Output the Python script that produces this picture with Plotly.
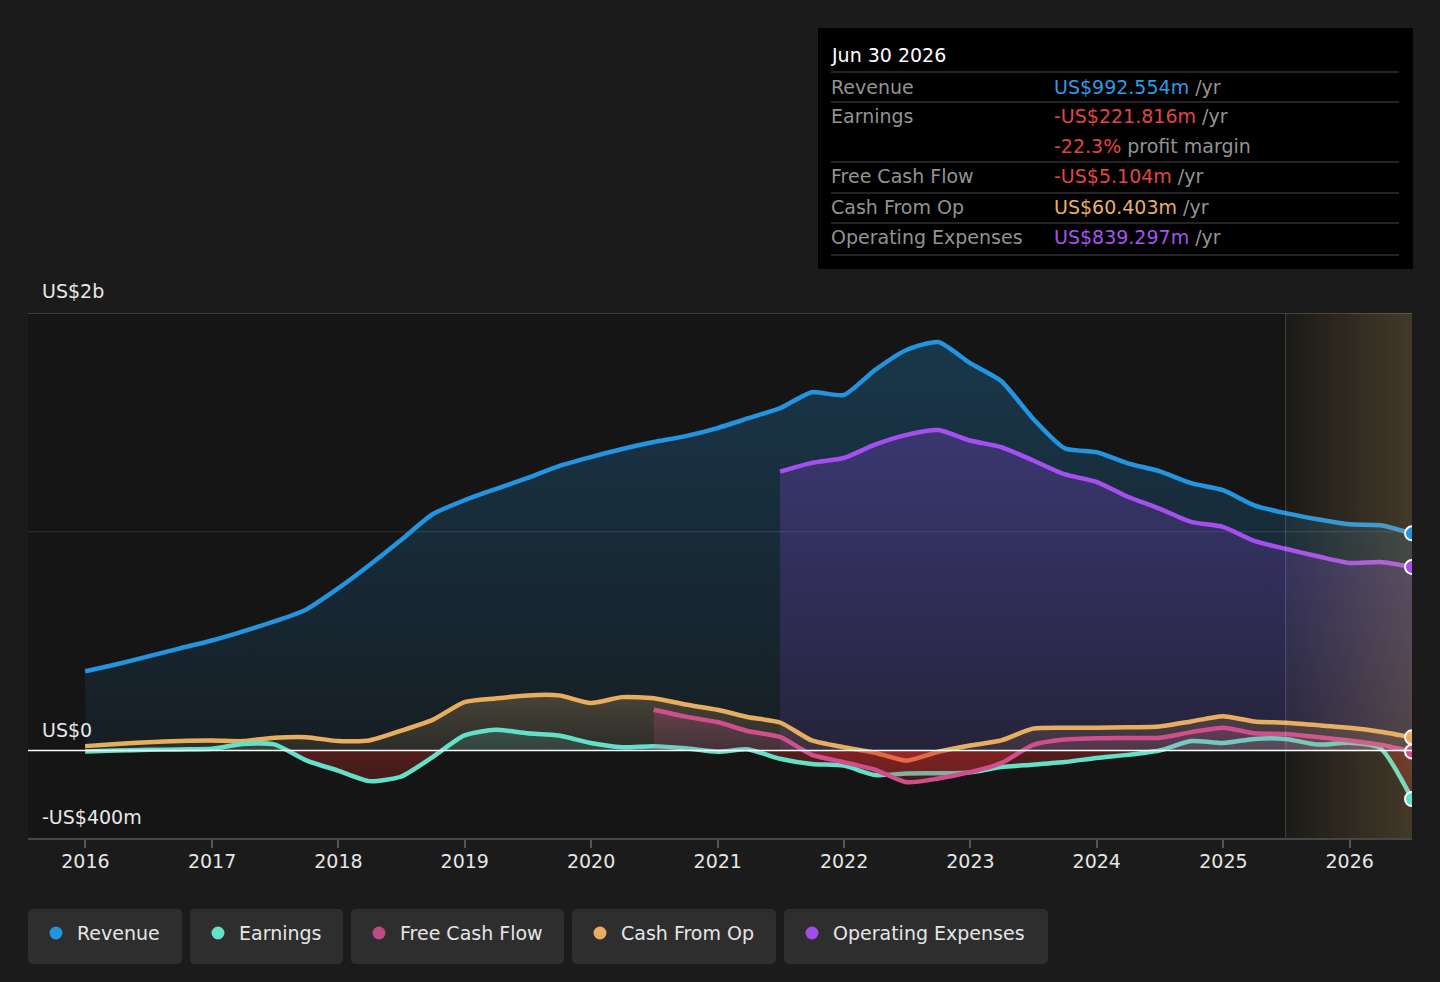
import plotly.graph_objects as go

# ---------------- data (US$ billions, trailing twelve months) ----------------
dates = [
    "2015-12-31", "2016-03-31", "2016-06-30", "2016-09-30",
    "2016-12-31", "2017-03-31", "2017-06-30", "2017-09-30",
    "2017-12-31", "2018-03-31", "2018-06-30", "2018-09-30",
    "2018-12-31", "2019-03-31", "2019-06-30", "2019-09-30",
    "2019-12-31", "2020-03-31", "2020-06-30", "2020-09-30",
    "2020-12-31", "2021-03-31", "2021-06-30", "2021-09-30",
    "2021-12-31", "2022-03-31", "2022-06-30", "2022-09-30",
    "2022-12-31", "2023-03-31", "2023-06-30", "2023-09-30",
    "2023-12-31", "2024-03-31", "2024-06-30", "2024-09-30",
    "2024-12-31", "2025-03-31", "2025-06-30", "2025-09-30",
    "2025-12-31", "2026-03-31", "2026-06-30",
]

revenue = [
    0.362, 0.394, 0.430, 0.467,
    0.503, 0.545, 0.590, 0.645,
    0.741, 0.847, 0.961, 1.080,
    1.144, 1.195, 1.245, 1.300,
    1.341, 1.378, 1.410, 1.437,
    1.474, 1.519, 1.565, 1.638,
    1.625, 1.739, 1.831, 1.867,
    1.771, 1.689, 1.519, 1.382,
    1.364, 1.313, 1.277, 1.222,
    1.190, 1.121, 1.085, 1.057,
    1.034, 1.030, 0.9926,
]

earnings = [
    -0.004, 0.000, 0.003, 0.005,
    0.008, 0.030, 0.028, -0.045,
    -0.092, -0.140, -0.120, -0.030,
    0.069, 0.095, 0.079, 0.069,
    0.034, 0.015, 0.020, 0.010,
    -0.006, 0.005, -0.038, -0.062,
    -0.069, -0.112, -0.105, -0.104,
    -0.100, -0.076, -0.065, -0.053,
    -0.034, -0.020, 0.000, 0.043,
    0.034, 0.053, 0.053, 0.027,
    0.035, 0.010, -0.2218,
]

# free cash flow starts Jun 2020
fcf = [
    0.186, 0.155,
    0.130, 0.088, 0.062, -0.020,
    -0.053, -0.088, -0.145, -0.128,
    -0.099, -0.058, 0.025, 0.050,
    0.056, 0.057, 0.058, 0.084,
    0.104, 0.079, 0.076, 0.062,
    0.046, 0.026, -0.0051,
]

cash_from_op = [
    0.020, 0.030, 0.038, 0.044,
    0.046, 0.043, 0.058, 0.061,
    0.043, 0.046, 0.090, 0.140,
    0.221, 0.238, 0.252, 0.252,
    0.217, 0.244, 0.239, 0.210,
    0.186, 0.152, 0.128, 0.046,
    0.015, -0.010, -0.046, -0.006,
    0.023, 0.046, 0.100, 0.104,
    0.104, 0.106, 0.110, 0.133,
    0.157, 0.133, 0.127, 0.116,
    0.104, 0.086, 0.0604,
]

# operating expenses start Jun 2021
opex = [
    1.275, 1.315,
    1.337, 1.398, 1.443, 1.465,
    1.417, 1.387, 1.327, 1.263,
    1.228, 1.160, 1.106, 1.045,
    1.022, 0.958, 0.922, 0.888,
    0.857, 0.862, 0.8393,
]

forecast_start = "2025-06-30"
x_range = ["2015-07-19", "2026-06-30"]
y_range = [-0.4, 2.0]
y_labels = [(2.0, "US$2b"), (0.0, "US$0"), (-0.4, "-US$400m")]

tooltip_date = "Jun 30 2026"
tooltip_rows = [
    ("Revenue", "US$992.554m", " /yr", "#2d9be6"),
    ("Earnings", "-US$221.816m", " /yr", "#e04646"),
    ("", "-22.3%", " profit margin", "#e04646"),
    ("Free Cash Flow", "-US$5.104m", " /yr", "#e04646"),
    ("Cash From Op", "US$60.403m", " /yr", "#e9b061"),
    ("Operating Expenses", "US$839.297m", " /yr", "#a852f0"),
]

legend_names = ["Revenue", "Earnings", "Free Cash Flow", "Cash From Op", "Operating Expenses"]

# ---------------- styles ----------------
FONT = "DejaVu Sans"
C_REV = "#2394df"
C_EARN = "#62e0c8"
C_FCF = "#cf4f8d"
C_CFO = "#e8ae5f"
C_OPEX = "#a64ff0"
legend_colors = ["#2494e0", "#63e2c9", "#be4a86", "#e8ad5f", "#a24ceb"]
LW = 4.5

W, H = 1440, 982
L, R, T, B = 28, 1412, 313, 838


def px(x):
    return (x - L) / (R - L)


def py(y):
    return (B - y) / (B - T)


def signed_scale(pos_rgb, a_lo, a_hi, neg_a_far=0.10, neg_a_near=0.32):
    """vertical gradient: red below zero, series colour above (start=-0.4, stop=0.4)"""
    return [
        [0.0, f"rgba(215,45,45,{neg_a_far})"],
        [0.5, f"rgba(215,45,45,{neg_a_near})"],
        [0.5, f"rgba({pos_rgb},{a_lo})"],
        [1.0, f"rgba({pos_rgb},{a_hi})"],
    ]


fig = go.Figure()

# Revenue
fig.add_trace(go.Scatter(
    x=dates, y=revenue, mode="lines", line=dict(color=C_REV, width=LW, shape="spline", smoothing=0.6),
    fill="tozeroy",
    fillgradient=dict(type="vertical", start=0, stop=1.9,
                      colorscale=[[0, "rgba(35,148,223,0.07)"], [1, "rgba(35,148,223,0.27)"]]),
    hoverinfo="skip", showlegend=False))

# Operating expenses
fig.add_trace(go.Scatter(
    x=dates[-len(opex):], y=opex, mode="lines", line=dict(color=C_OPEX, width=LW, shape="spline", smoothing=0.6),
    fill="tozeroy",
    fillgradient=dict(type="vertical", start=0, stop=1.5,
                      colorscale=[[0, "rgba(150,70,235,0.12)"], [1, "rgba(150,70,235,0.27)"]]),
    hoverinfo="skip", showlegend=False))

# Cash from operations
fig.add_trace(go.Scatter(
    x=dates, y=cash_from_op, mode="lines", line=dict(color=C_CFO, width=LW, shape="spline", smoothing=0.6),
    fill="tozeroy",
    fillgradient=dict(type="vertical", start=-0.4, stop=0.4,
                      colorscale=signed_scale("232,174,95", 0.10, 0.32)),
    hoverinfo="skip", showlegend=False))

# Earnings
fig.add_trace(go.Scatter(
    x=dates, y=earnings, mode="lines", line=dict(color=C_EARN, width=LW, shape="spline", smoothing=0.6),
    fill="tozeroy",
    fillgradient=dict(type="vertical", start=-0.4, stop=0.4,
                      colorscale=signed_scale("98,224,200", 0.12, 0.32)),
    hoverinfo="skip", showlegend=False))

# Free cash flow
fig.add_trace(go.Scatter(
    x=dates[-len(fcf):], y=fcf, mode="lines", line=dict(color=C_FCF, width=LW, shape="spline", smoothing=0.6),
    fill="tozeroy",
    fillgradient=dict(type="vertical", start=-0.4, stop=0.4,
                      colorscale=signed_scale("207,79,141", 0.14, 0.38)),
    hoverinfo="skip", showlegend=False))

# Forecast band
fig.add_trace(go.Scatter(
    x=[forecast_start, x_range[1], x_range[1], forecast_start, forecast_start],
    y=[y_range[0], y_range[0], y_range[1], y_range[1], y_range[0]],
    mode="lines", line=dict(width=0), fill="toself",
    fillgradient=dict(type="horizontal",
                      colorscale=[[0, "rgba(230,185,110,0.03)"], [1, "rgba(230,185,110,0.22)"]]),
    hoverinfo="skip", showlegend=False))

# End markers
end_vals = [revenue[-1], opex[-1], cash_from_op[-1], fcf[-1], earnings[-1]]
end_cols = [C_REV, C_OPEX, C_CFO, C_FCF, C_EARN]
fig.add_trace(go.Scatter(
    x=[dates[-1]] * len(end_vals), y=end_vals, mode="markers",
    marker=dict(size=14, color=end_cols, line=dict(color="white", width=2)),
    hoverinfo="skip", showlegend=False, cliponaxis=True))

shapes = []
annotations = []

# grid lines
shapes.append(dict(type="line", xref="paper", yref="y", x0=0, x1=1, y0=2.0, y1=2.0,
                   line=dict(color="#4a4a4a", width=1.5), layer="below"))
shapes.append(dict(type="line", xref="paper", yref="y", x0=0, x1=1, y0=1.0, y1=1.0,
                   line=dict(color="rgba(255,255,255,0.13)", width=1.2), layer="below"))
shapes.append(dict(type="line", xref="paper", yref="y", x0=0, x1=1, y0=0.0, y1=0.0,
                   line=dict(color="#ffffff", width=1.5), layer="above"))
# forecast divider
shapes.append(dict(type="line", xref="x", yref="y", x0=forecast_start, x1=forecast_start,
                   y0=y_range[0], y1=y_range[1],
                   line=dict(color="rgba(255,255,255,0.16)", width=1.2), layer="above"))

# y labels
label_shift = {2.0: 22, 0.0: 21, -0.4: 21}
for val, txt in y_labels:
    annotations.append(dict(xref="paper", yref="y", x=px(40), y=val, yshift=label_shift[val],
                            text=txt, showarrow=False, xanchor="left", yanchor="middle",
                            font=dict(family=FONT, size=19, color="#e8e8e8")))

# tooltip box
shapes.append(dict(type="rect", xref="paper", yref="paper", x0=px(818), x1=px(1413), y0=py(269), y1=py(28),
                   fillcolor="#000000", line=dict(width=0), layer="above"))
annotations.append(dict(xref="paper", yref="paper", x=px(829), y=py(55), text=tooltip_date,
                        showarrow=False, xanchor="left", yanchor="middle",
                        font=dict(family=FONT, size=19, color="#ffffff")))
row_y = [87, 116, 146, 176, 207, 237]
sep_y = [72, 102, 162, 193, 223, 255]
for sy in sep_y:
    shapes.append(dict(type="line", xref="paper", yref="paper", x0=px(831), x1=px(1399), y0=py(sy), y1=py(sy),
                       line=dict(color="#474747", width=1.2), layer="above"))
for (lab, val, unit, col), ry in zip(tooltip_rows, row_y):
    if lab:
        annotations.append(dict(xref="paper", yref="paper", x=px(829), y=py(ry), text=lab,
                                showarrow=False, xanchor="left", yanchor="middle",
                                font=dict(family=FONT, size=19, color="#939393")))
    annotations.append(dict(xref="paper", yref="paper", x=px(1052), y=py(ry),
                            text=f"<span style='color:{col}'>{val}</span>{unit}",
                            showarrow=False, xanchor="left", yanchor="middle",
                            font=dict(family=FONT, size=19, color="#939393")))

# legend chips
boxes = [(28, 182), (190, 343), (351, 564), (572, 776), (784, 1048)]
by0, by1, rad = 909, 964, 5


def rrect(x0, x1, y0, y1, r):
    X0, X1 = px(x0), px(x1)
    Y0, Y1 = py(y1), py(y0)
    rx = r / (R - L)
    ry = r / (B - T)
    return (f"M{X0+rx},{Y0} L{X1-rx},{Y0} Q{X1},{Y0} {X1},{Y0+ry} L{X1},{Y1-ry} Q{X1},{Y1} {X1-rx},{Y1} "
            f"L{X0+rx},{Y1} Q{X0},{Y1} {X0},{Y1-ry} L{X0},{Y0+ry} Q{X0},{Y0} {X0+rx},{Y0} Z")


for (bx0, bx1), name, col in zip(boxes, legend_names, legend_colors):
    shapes.append(dict(type="path", xref="paper", yref="paper", path=rrect(bx0, bx1, by0, by1, rad),
                       fillcolor="#2e2e2e", line=dict(width=0), layer="above"))
    cx, cy, r = bx0 + 28, 933, 6.5
    shapes.append(dict(type="circle", xref="paper", yref="paper",
                       x0=px(cx - r), x1=px(cx + r), y0=py(cy + r), y1=py(cy - r),
                       fillcolor=col, line=dict(width=0), layer="above"))
    annotations.append(dict(xref="paper", yref="paper", x=px(bx0 + 47), y=py(933), text=name,
                            showarrow=False, xanchor="left", yanchor="middle",
                            font=dict(family=FONT, size=19, color="#e6e6e6")))

fig.update_layout(
    width=W, height=H,
    margin=dict(l=L, r=W - R, t=T, b=H - B, pad=0),
    paper_bgcolor="#1b1b1b",
    plot_bgcolor="#151515",
    font=dict(family=FONT, size=19, color="#e6e6e6"),
    showlegend=False,
    shapes=shapes,
    annotations=annotations,
    xaxis=dict(type="date", range=x_range, showgrid=False, zeroline=False,
               tick0="2016-01-01", dtick="M12", tickformat="%Y",
               ticks="outside", ticklen=8, tickcolor="#555555", tickwidth=1.5,
               ticklabelstandoff=-3,
               showline=True, linecolor="#464646", linewidth=2,
               tickfont=dict(family=FONT, size=19, color="#e6e6e6")),
    yaxis=dict(range=y_range, showgrid=False, zeroline=False, showticklabels=False,
               showline=False, fixedrange=True),
)

fig.write_html(
    "out.html",
    config={"displayModeBar": False},
    post_script="document.body.style.margin='0';document.body.style.overflow='hidden';"
                "document.body.style.background='#1b1b1b';",
)
